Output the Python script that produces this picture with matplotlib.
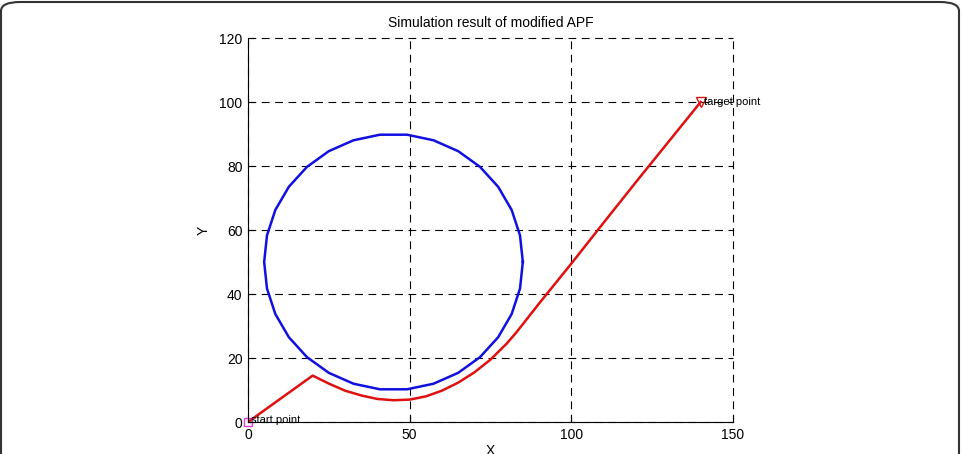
import matplotlib
matplotlib.use('Agg')
import matplotlib.pyplot as plt
from matplotlib.patches import FancyBboxPatch
import numpy as np

# obstacle circle (center, radius)
obs_center = (45, 50)
obs_radius = 40
obs_segments = 30

# planned path
path_x = [0, 20, 25, 30, 35, 40, 45, 50, 55, 60, 65, 70, 75, 80, 83, 90, 100, 110, 120, 130, 140]
path_y = [0, 14.5, 12.0, 9.8, 8.3, 7.2, 6.8, 7.0, 8.0, 9.8, 12.3, 15.5, 19.5, 24.5, 28.0, 37.0, 49.5, 62.3, 75.0, 87.5, 100]

start = (0, 0)
target = (140, 100)

xticks = [0, 50, 100, 150]
yticks = [0, 20, 40, 60, 80, 100, 120]

plt.rcParams['font.family'] = 'Liberation Sans'

fig = plt.figure(figsize=(9.63, 4.54), dpi=100)
ax = fig.add_axes([248 / 963, 1 - 422 / 454, (733 - 248) / 963, (422 - 38) / 454])

t = np.linspace(0, 2 * np.pi, obs_segments + 1)
ax.plot(obs_center[0] + obs_radius * np.cos(t), obs_center[1] + obs_radius * np.sin(t),
        color='#1010e0', lw=1.8)
ax.plot(path_x, path_y, color='#e01010', lw=1.8)
ax.plot(*start, marker='s', ms=6, mfc='none', mec='#e040e0', clip_on=False)
ax.plot(*target, marker='v', ms=7, mfc='none', mec='#e01010', clip_on=False)
ax.text(start[0] + 1, start[1] + 0.5, 'start point', fontsize=8, va='center')
ax.text(target[0] + 1, target[1], 'target point', fontsize=8, va='center')

ax.set_xlim(0, 150)
ax.set_ylim(0, 120)
ax.set_xticks(xticks)
ax.set_yticks(yticks)
ax.tick_params(direction='in', length=4, labelsize=10, pad=4)
ax.grid(True, color='black', linestyle=(0, (7, 5)), lw=0.8)
for gl in ax.get_xgridlines() + ax.get_ygridlines():
    gl.set_clip_on(False)
ax.spines['top'].set_visible(False)
ax.spines['right'].set_visible(False)
ax.set_title('Simulation result of modified APF', fontsize=10, pad=8)
ax.set_xlabel('X', fontsize=10, labelpad=2)
ax.set_ylabel('Y', fontsize=10, labelpad=6)

frame = FancyBboxPatch((1 / 963, -0.2), 958 / 963, 1.2 - 2 / 454,
                       boxstyle='round,pad=0,rounding_size=0.02',
                       transform=fig.transFigure, fill=False,
                       ec='#333333', lw=1.5, clip_on=False)
fig.patches.append(frame)

plt.savefig('out.png', dpi=100)
